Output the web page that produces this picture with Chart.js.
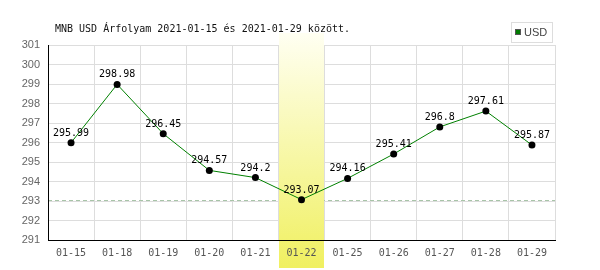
<!DOCTYPE html>
<html>
<head>
<meta charset="utf-8">
<script src="https://cdn.jsdelivr.net/npm/chart.js@4/dist/chart.umd.min.js"></script>
<style>
  html, body { margin: 0; padding: 0; background: #fff; }
</style>
</head>
<body>
<canvas id="rateChart" width="600" height="270"></canvas>
<script>
// MNB USD rates, 2021-01-15 .. 2021-01-29
const dates = ["01-15", "01-18", "01-19", "01-20", "01-21", "01-22", "01-25", "01-26", "01-27", "01-28", "01-29"];
const rates = [295.99, 298.98, 296.45, 294.57, 294.2, 293.07, 294.16, 295.41, 296.8, 297.61, 295.87];
const yMin = 291;
const yMax = 301;
const titleText = "MNB USD Árfolyam 2021-01-15 és 2021-01-29 között.";
const seriesName = "USD";

const minIndex = rates.indexOf(Math.min(...rates));

const extras = {
  id: "extras",
  beforeDatasetsDraw(chart) {
    const ctx = chart.ctx;
    const area = chart.chartArea;
    const x = chart.scales.x;
    const y = chart.scales.y;

    // dashed line at the lowest rate
    const yLow = Math.round(y.getPixelForValue(rates[minIndex])) + 0.5;
    ctx.save();
    ctx.strokeStyle = "#a8c4a8";
    ctx.lineWidth = 1;
    ctx.setLineDash([4, 3]);
    ctx.beginPath();
    ctx.moveTo(area.left, yLow);
    ctx.lineTo(area.right, yLow);
    ctx.stroke();
    ctx.restore();

    // highlight column of the lowest day
    const w = (area.right - area.left) / dates.length;
    const cx = x.getPixelForValue(minIndex);
    const top = 33, bottom = 268;
    const grad = ctx.createLinearGradient(0, top, 0, bottom);
    grad.addColorStop(0, "#fffff2");
    grad.addColorStop(1, "#f0f060");
    ctx.save();
    ctx.fillStyle = grad;
    ctx.fillRect(Math.round(cx - w / 2) + 1, top, Math.round(w) - 1, bottom - top);
    ctx.restore();
  },
  afterDatasetsDraw(chart) {
    const ctx = chart.ctx;
    const meta = chart.getDatasetMeta(0);
    ctx.save();
    ctx.font = "10px 'DejaVu Sans Mono'";
    ctx.fillStyle = "#000";
    ctx.textAlign = "center";
    ctx.textBaseline = "alphabetic";
    meta.data.forEach((pt, i) => {
      ctx.fillText(String(rates[i]), pt.x, pt.y - 7);
    });
    ctx.restore();
  },
  afterDraw(chart) {
    const ctx = chart.ctx;
    ctx.save();
    // title
    ctx.font = "10px 'DejaVu Sans Mono'";
    ctx.fillStyle = "#111";
    ctx.textAlign = "left";
    ctx.textBaseline = "alphabetic";
    ctx.fillText(titleText, 55, 32);

    // legend
    ctx.strokeStyle = "#dddddd";
    ctx.lineWidth = 1;
    ctx.strokeRect(511.5, 22.5, 41, 20);
    ctx.fillStyle = "#007a00";
    ctx.fillRect(515, 29, 6, 6);
    ctx.strokeStyle = "#555";
    ctx.strokeRect(515.5, 29.5, 5, 5);
    ctx.fillStyle = "#444";
    ctx.font = "11px 'Liberation Sans Narrow', 'Liberation Sans'";
    ctx.textBaseline = "middle";
    ctx.fillText(seriesName, 524, 33);
    ctx.restore();
  }
};

new Chart(document.getElementById("rateChart"), {
  type: "line",
  data: {
    labels: dates,
    datasets: [{
      label: seriesName,
      data: rates,
      borderColor: "#008000",
      borderWidth: 1,
      pointRadius: 3.5,
      pointBackgroundColor: "#000",
      pointBorderColor: "#000",
      pointBorderWidth: 0,
      tension: 0,
      fill: false
    }]
  },
  options: {
    responsive: false,
    animation: false,
    layout: { padding: { top: 45, right: 45, left: 0, bottom: 0 } },
    plugins: {
      legend: { display: false },
      title: { display: false },
      tooltip: { enabled: false }
    },
    scales: {
      x: {
        offset: true,
        afterFit(s) { s.height = 30; },
        grid: { offset: true, color: "#dddddd", drawTicks: false },
        border: { color: "#000", width: 1, z: 1 },
        ticks: {
          z: 1,
          padding: 7,
          color: "#555",
          font: { family: "'DejaVu Sans Mono'", size: 10 },
          maxRotation: 0,
          autoSkip: false
        }
      },
      y: {
        min: yMin,
        max: yMax,
        afterFit(s) { s.width = 48; },
        grid: { color: "#dddddd", drawTicks: false },
        border: { color: "#000", width: 1, z: 1 },
        ticks: {
          z: 1,
          stepSize: 1,
          padding: 8,
          color: "#666",
          font: { family: "'Liberation Sans'", size: 11 }
        }
      }
    }
  },
  plugins: [extras]
});
</script>
</body>
</html>
